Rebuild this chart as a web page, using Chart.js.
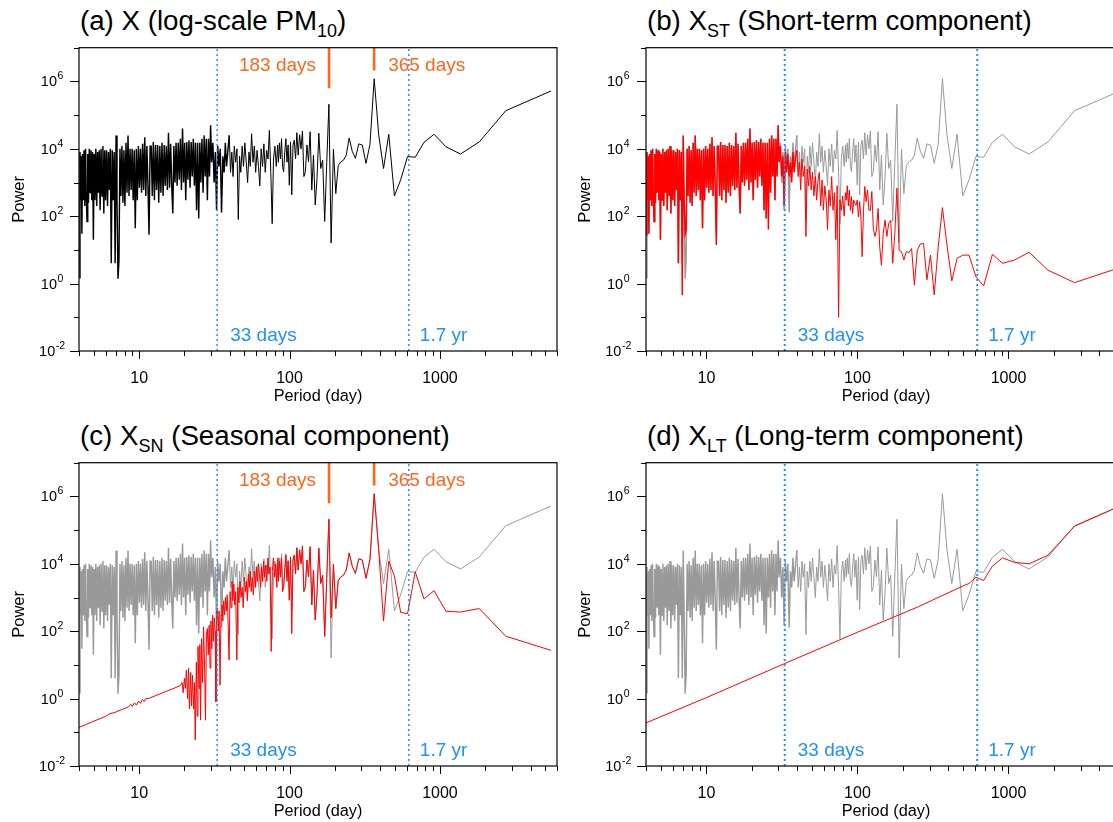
<!DOCTYPE html>
<html>
<head>
<meta charset="utf-8">
<script src="https://cdn.jsdelivr.net/npm/chart.js@4.4.1/dist/chart.umd.min.js"></script>
<style>
html,body{margin:0;padding:0;overflow:hidden;background:#fff;width:1113px;height:822px;position:relative;}
canvas{position:absolute;}
.title{position:absolute;font-family:"Liberation Sans",Arial,Helvetica,sans-serif;font-size:27.7px;color:#000;white-space:nowrap;line-height:1;}
.title .s{font-size:0.65em;position:relative;top:0.37em;}
</style>
</head>
<body>
<div class="title" style="left:80px;top:7px">(a) X (log-scale PM<span class="s">10</span>)</div>
<div class="title" style="left:647px;top:7px">(b) X<span class="s">ST</span> (Short-term component)</div>
<div class="title" style="left:80px;top:422px">(c) X<span class="s">SN</span> (Seasonal component)</div>
<div class="title" style="left:647px;top:422px">(d) X<span class="s">LT</span> (Long-term component)</div>
<script>
// ---------------- data (periods in days, power) ----------------
const densePeriods = [4.00,4.04,4.08,4.12,4.16,4.20,4.25,4.30,4.35,4.40,4.45,4.50,4.55,4.60,4.66,4.72,4.78,4.84,4.90,4.96,5.02,5.08,5.15,5.22,5.29,5.36,5.43,5.50,5.58,5.66,5.74,5.82,5.90,5.98,6.07,6.16,6.25,6.34,6.43,6.52,6.62,6.72,6.82,6.92,7.02,7.12,7.23,7.34,7.45,7.56,7.68,7.80,7.92,8.04,8.17,8.30,8.43,8.56,8.70,8.84,8.98,9.12,9.27,9.42,9.57,9.72,9.88,10.04,10.2,10.37,10.54,10.71,10.89,11.07,11.25,11.44,11.63,11.82,12.02,12.22,12.42,12.63,12.84,13.05,13.27,13.49,13.72,13.95,14.18,14.42,14.66,14.9,15.15,15.4,15.66,15.92,16.19,16.46,16.73,17.01,17.3,17.59,17.88,18.18,18.48,18.79,19.1,19.42,19.74,20.07,20.4,20.74,21.09,21.44,21.8,22.16,22.53,22.91,23.29,23.68,24.07,24.47,24.88,25.3,25.72,26.15,26.59,27.03,27.48,27.94,28.41,28.88,29.36,29.85];
const midPeriods = [30.3,30.9,31.5,32.1,32.7,33.3,33.9,34.6,35.3,36.0,36.7,37.4,38.1,38.9,39.7,40.5,41.3,42.1,42.9,43.8,44.7,45.6,46.5,47.4,48.4,49.4,50.4,51.5,52.6,53.7,54.8,55.9,57.1,58.3,59.5,60.8,62.1,63.4,64.7,66.1,67.5,68.9,70.4,71.9,73.4,75.0,76.6,78.2,79.9,81.6,83.3];
const longPeriods = [84.3,85.6,87.0,88.4,89.8,91.3,92.9,94.5,96.1,97.8,99.6,101.5,103.4,105.4,107.4,109.6,111.8,114.1,116.6,119.1,121.8,124.5,127.4,130.5,133.6,137.0,140.5,144.2,148.1,152.2,156.5,161.1,166.0,171.2,176.7,182.6,188.9,195.7,202.9,210.7,219.2,228.3,238.2,249.0,260.9,274.0,288.4,304.4,322.3,342.4,365.3,391.4,421.5,456.6,498.1,547.9,608.8,684.9,782.7,913.2,1095.8,1369.8,1826.3,2739.5,5479];

// X : full series (black in a, grey in b-d)
const xDense = [1.5,8e3,3e2,6e3,30,7e3,3e2,9e3,2e2,1e4,
 4e2,70,7e3,2.5e2,1e4,5e2,9e3,3e2,8e3,20,
 7e3,3e2,1e4,2e2,8e3,5e2,9e3,1.5e2,1e4,4e2,
 1.2e4,1.2e2,9e3,3e2,9e3,2e2,8e3,6e2,1e4,4,
 9e3,3e2,8e3,4,2.5e4,3e2,1.4,5,1e4,4e2,
 1.2e4,2.5e2,9e3,2e2,1.5e4,5e2,2.5e4,4e2,1e4,6e2,
 1e4,3e2,9e3,44,1e4,3e2,1.2e4,7e2,1e4,5e2,
 1.4e4,6e2,2.2e4,4e2,1.2e4,8e2,28,1.2e4,1.2e4,4e2,
 1.6e4,3e2,1.3e4,6e2,1.3e4,2.5e2,1.2e4,5e2,1.5e4,4e2,
 1.3e4,8e2,1.2e4,6e2,3e4,7e2,1.4e4,8e2,1.2e2,1.2e4,
 1e3,1.5e4,8e2,1.5e4,1.2e3,2e4,6e2,4e4,1e3,1.5e4,
 3e2,1.6e4,1.2e3,1.8e4,7e2,1.6e4,1.5e3,2e4,8e2,1.5e4,
 1.5e2,1.5e4,85,1.5e4,1e3,2e4,5e2,2.5e4,1.5e3,2e4,
 3e2,2e4,1.5e3,5e4];
const xMid = [4e3,1.5e4,1e3,8e3,1.5e2,1.2e4,3e3,1e4,1.3e2,6e3,2e3,1.5e4,3e3,9e3,2.5e4,2e3,8e3,1.5e3,1.2e4,4e3,1e4,80,6e3,2e3,1.2e4,3e3,1.5e4,4e3,1e3,8e3,3e3,2.8e4,4e3,1.2e4,2e3,9e3,3e3,8e2,1e4,3e3,1.4e4,2e3,9e3,5e3,3.5e4,2e3,60,5e3,1.2e4,3e3,1.3e4];
const xLong = [4e3,1.5e4,5e3,2e4,3e3,2.1e3,8e3,2e4,4e3,1.3e4,
 8.3e2,1.6e4,4.3e2,1.3e4,1.8e4,5e3,3e4,6.5e3,2.6e4,1e4,
 3.4e4,1.5e3,2.1e3,1.3e4,4.1e3,3.2e4,6e2,6.5e3,2.15e2,1.3e3,
 2.9e4,2.6e3,4.6e3,70,4e3,2.1e5,16,9.8e3,4.7e2,3.2e3,
 4.1e3,4.6e3,6.5e3,2.1e4,8.5e3,5.2e3,1.4e4,1.3e4,3.7e3,1.35e4,
 1.2e6,2.6e4,2.6e3,2.7e4,4e2,1.2e3,5.9e3,5.6e3,1.55e4,2.7e4,
 1.15e4,7e3,1.6e4,1.35e5,5.2e5];

// X_ST : short-term component (red in b)
const stDense = [28,8e3,3e2,6e3,30,7e3,3e2,9e3,2e2,1e4,
 4e2,70,7e3,2.5e2,1e4,5e2,9e3,3e2,8e3,20,
 7e3,3e2,1e4,2e2,8e3,5e2,9e3,1.5e2,1e4,4e2,
 1.2e4,1.2e2,9e3,3e2,9e3,2e2,8e3,6e2,1e4,4,
 9e3,3e2,8e3,0.45,2.5e4,3e2,30,40,1e4,4e2,
 1.2e4,2.5e2,9e3,2e2,1.5e4,5e2,2.5e4,4e2,1e4,6e2,
 1e4,3e2,9e3,44,1e4,3e2,1.2e4,7e2,1e4,5e2,
 1.4e4,6e2,2.2e4,4e2,1.2e4,8e2,14,1.2e4,1.2e4,4e2,
 1.6e4,3e2,1.3e4,6e2,1.3e4,2.5e2,1.2e4,5e2,1.5e4,4e2,
 1.3e4,8e2,1.2e4,6e2,3e4,7e2,1.4e4,8e2,1.2e2,1.2e4,
 1e3,1.5e4,8e2,1.5e4,1.2e3,2e4,6e2,4e4,1e3,1.5e4,
 3e2,1.6e4,1.2e3,1.8e4,7e2,1.6e4,1.5e3,2e4,8e2,1.5e4,
 1.5e2,1.5e4,85,1.5e4,40,2e4,5e2,2.5e4,1.5e3,2e4,
 3e2,2e4,1.5e3,5e4];
const stMid = [4e3,1.2e4,1.5e3,6e3,2e2,8e3,2e3,7e3,1.5e3,4e3,1e3,8e3,2e3,5e3,9e3,1.5e3,4e3,6e2,5e3,1.5e3,3e3,25,2.5e3,8e2,3e3,6e2,2e3,4e2,1.5e3,3e2,1.2e3,2e3,2e2,1.2e3,1.5e2,8e2,3e2,40,6e2,2e2,1.5e3,1.5e2,5e2,20,8e2,0.1,3e2,1.5e2,4e2,1e2,5e2];
const stLong = [3e2,8e2,2e2,6e2,1.5e2,3.8e2,1.2e2,3e2,2.4e2,2.1e2,
 3e2,95,2.7e2,95,6.3,1.35e2,7.6e2,2.7e2,6e2,1.5e2,
 1.5e2,5.4e2,44,25,39,1.7e2,12,3.5,31,76,
 25,62,76,4,30,6.8e2,9.8,8.9,5,8.9,
 8.3,11,0.9,9.8,15,15.5,1.3,7,0.46,12,
 1.8e2,14,1.2,5.6,7,7,1.6,0.85,7.4,4,
 5,8.5,2.5,1.07,3];

// X_SN : seasonal component (red in c)
const snPeriods = [3.98,6.0,6.4,6.8,8.5,8.8,9.0,9.3,9.6,9.9,10.2,10.5,10.8,11.1,11.5,18.7,19.3,19.6,20.0,20.3,20.6,21.0,21.3,21.6,22.0,22.3,22.6,23.0,23.3,23.6,24.0,24.3,24.6,25.0,25.3,25.6,26.0,26.4,26.8,27.2,27.6,28.0,28.4,28.8,29.2,29.6,30.0,30.4,30.8,31.2,31.6,32.0,32.4,32.8,33.2,33.6,34.0,34.5,35.0,35.5,36.0,36.5,37.0,37.5,38.0,38.5,39.0,39.6,40.2,40.8,41.4,42.0,42.6,43.2,43.8,44.6,45.3,46.0,46.8,47.6,48.4,49.2,50.0,50.8,51.6,52.4,53.2,54.0,54.8,55.6,56.5,57.4,58.3,59.2,60.2,61.2,62.2,63.2,64.2,65.2,66.2,67.2,68.3,69.4,70.6,71.8,73.0,74.2,75.5,76.8,78.1,79.5,80.9,82.3,83.7];
const snPower = [0.14,0.3,0.36,0.38,0.57,0.68,0.58,0.75,0.64,0.85,0.72,0.95,0.82,1.02,1.0,2.4,3,1.5,4,2,7,1,8,0.5,6,0.6,5,0.5,3,0.06,12,0.3,35,2,40,0.23,60,3,1.35e2,10,0.23,80,1.2e2,20,1.5e2,8,2e2,30,3e2,50,2.5e2,1e2,0.8,4e2,4.8e2,1e2,4e2,2.5,3e2,6e2,2e2,8e2,3e2,1e3,4e2,1.2e3,2e2,14,1.5e3,5e2,3e3,8e2,2.5e3,6e2,1.5e3,14,2e3,7e2,3e3,1e3,2e3,5e2,4e3,1.5e3,3e3,8e2,5e3,2e3,6e3,1.5e3,4e3,1.2e3,6e3,2e3,8e3,3e3,1e4,4e3,2e3,8e3,3e3,1.2e4,4e3,9e3,3e3,1.5e4,5e3,8e3,25,6e3,1.5e4,4e3,1e4,2e3,1.5e4];
const snLong = [3e3,1.2e4,4e3,1.5e4,1.5e3,2e3,6e3,1.8e4,3e3,1.2e4,
 8.3e2,1.6e4,85,1.3e4,1.8e4,5e3,3e4,6.5e3,2.6e4,1e4,
 3.4e4,1.5e3,2.1e3,1.3e4,4.1e3,3.2e4,6e2,6.5e3,2.15e2,1.3e3,
 2.9e4,2.6e3,4.6e3,70,4e3,2.1e5,2.5e2,9.8e3,4.7e2,3.2e3,
 4.1e3,4.6e3,6.5e3,2.1e4,8.5e3,5.2e3,1.4e4,1.3e4,3.7e3,1.35e4,
 1.2e6,2.6e4,2e2,1.2e4,4.3e3,3.6e2,3.3e2,5.8e3,9e2,1.6e3,
 3.9e2,3.7e2,4.7e2,71,27];

// X_LT : long-term component (red in d)
const ltPeriods = [3.98,10,33,100,250,500,547.9,608.8,684.9,782.7,913.2,1095.8,1369.8,1826.3,2739.5,5479];
const ltPower = [0.19,1.07,11,93,520,2.2e3,2.6e3,4e3,3.2e3,8.5e3,1.5e4,1.1e4,1e4,1.8e4,1.3e5,5.2e5];

// reference marks
const shortCut = 33, longCut = 621;          // days (33 days, 1.7 yr)
const seasonalPeaks = [183, 365];            // days
const seasonalBarEnds = [6.3e5, 2.1e6];      // lower end of the orange markers

// axes
const X_MIN = 3.98, X_MAX = 6000, Y_MIN = 1e-2, Y_MAX = 1e7;
const yTickExps = [-2,-1,0,1,2,3,4,5,6,7];
const yLabelExps = [-2,0,2,4,6];
const xMajorTicks = [10,100,1000];
const xMinorTicks = [4,5,6,7,8,9,20,30,40,50,60,70,80,90,200,300,400,500,600,700,800,900,2000,3000,4000,5000,6000];

// ---------------- drawing ----------------
const FONT = '"Liberation Sans", Arial, Helvetica, sans-serif';
const BLUE = '#1e90ff', ORANGE = '#ff6619', RED = '#ff0000', GREY = '#999999';
const pts = (xs, ys) => xs.map((v, i) => ({x: v, y: ys[i]}));
const xAllP = densePeriods.concat(midPeriods, longPeriods);
const xAll = xDense.concat(xMid, xLong);
const stAll = stDense.concat(stMid, stLong);
const SPLIT = densePeriods.length + 14;   // the crowded short-period part is drawn a bit heavier

const deco = {
  id: 'deco',
  afterDatasetsDraw(chart, args, o) {
    const {ctx, chartArea: A, scales: {x, y}} = chart;
    ctx.save();
    ctx.setLineDash([]);
    ctx.strokeStyle = '#000';
    ctx.lineWidth = 1.2;
    ctx.strokeRect(A.left, A.top, A.right - A.left, A.bottom - A.top);
    ctx.lineWidth = 1;
    ctx.beginPath();
    yTickExps.forEach(e => {
      const py = Math.round(y.getPixelForValue(Math.pow(10, e))) + 0.5;
      const len = yLabelExps.includes(e) ? 9 : 5;
      ctx.moveTo(A.left - len, py); ctx.lineTo(A.left, py);
    });
    xMajorTicks.forEach(v => { const px = Math.round(x.getPixelForValue(v)) + 0.5; ctx.moveTo(px, A.bottom); ctx.lineTo(px, A.bottom + 8); });
    xMinorTicks.forEach(v => { const px = Math.round(x.getPixelForValue(v)) + 0.5; ctx.moveTo(px, A.bottom); ctx.lineTo(px, A.bottom + 5); });
    ctx.stroke();

    ctx.fillStyle = '#000';
    ctx.textBaseline = 'alphabetic';
    yLabelExps.forEach(e => {
      const py = y.getPixelForValue(Math.pow(10, e));
      const base = '10', sup = e < 0 ? '-' + (-e) : String(e);
      ctx.font = '14.5px ' + FONT; const wb = ctx.measureText(base).width;
      ctx.font = '10.5px ' + FONT; const ws = ctx.measureText(sup).width;
      const left = A.left - o.yLabelGap - (wb + ws) / 2;
      ctx.textAlign = 'left';
      ctx.font = '14.5px ' + FONT; ctx.fillText(base, left, py + 5);
      ctx.font = '10.5px ' + FONT; ctx.fillText(sup, left + wb + 0.5, py - 2);
    });
    ctx.textAlign = 'center';
    ctx.font = '16px ' + FONT;
    xMajorTicks.forEach(v => ctx.fillText(String(v), x.getPixelForValue(v), A.bottom + 31.5));
    ctx.font = '16.3px ' + FONT;
    ctx.fillText('Period (day)', (A.left + A.right) / 2, A.bottom + 49.5);
    ctx.save();
    ctx.translate(A.left - o.yTitleGap, (A.top + A.bottom) / 2);
    ctx.rotate(-Math.PI / 2);
    ctx.textBaseline = 'middle';
    ctx.font = '16.5px ' + FONT;
    ctx.fillText('Power', 0, 0);
    ctx.restore();

    ctx.font = '19px ' + FONT;
    ctx.fillStyle = BLUE;
    ctx.textAlign = 'left';
    ctx.fillText('33 days', x.getPixelForValue(shortCut) + o.dx33, A.bottom - 10.3);
    ctx.fillText('1.7 yr', x.getPixelForValue(longCut) + o.dx17, A.bottom - 10.3);
    if (o.seasonal) {
      ctx.fillStyle = ORANGE;
      ctx.textAlign = 'right';
      ctx.fillText('183 days', x.getPixelForValue(seasonalPeaks[0]) - 13, A.top + 23.5);
      ctx.textAlign = 'left';
      ctx.fillText('365 days', x.getPixelForValue(seasonalPeaks[1]) + 14, A.top + 23.5);
    }
    ctx.restore();
  }
};

function series(xs, ys, color, order, width) {
  return {data: pts(xs, ys), borderColor: color, borderWidth: width || 1, pointRadius: 0, fill: false, tension: 0, order: order};
}
// a series drawn in two parts: crowded short periods slightly heavier, the rest at 1px
function splitSeries(xs, ys, color, order) {
  return [
    series(xs.slice(0, SPLIT + 1), ys.slice(0, SPLIT + 1), color, order, 1.45),
    series(xs.slice(SPLIT), ys.slice(SPLIT), color, order, 1)
  ];
}
function markerSets(seasonal, dotW) {
  const s = [
    {data: [{x: shortCut, y: Y_MIN}, {x: shortCut, y: Y_MAX}], borderColor: BLUE, borderWidth: dotW, borderDash: [2, 3], pointRadius: 0, order: 0},
    {data: [{x: longCut, y: Y_MIN}, {x: longCut, y: Y_MAX}], borderColor: BLUE, borderWidth: dotW, borderDash: [2, 3], pointRadius: 0, order: 0}
  ];
  if (seasonal) {
    seasonalPeaks.forEach((p, i) => s.push({data: [{x: p, y: Y_MAX}, {x: p, y: seasonalBarEnds[i]}], borderColor: ORANGE, borderWidth: 2.6, pointRadius: 0, order: 0}));
  }
  return s;
}

function panel(left, top, width, pad, datasets, o) {
  const c = document.createElement('canvas');
  c.width = width; c.height = 420;
  c.style.left = left + 'px'; c.style.top = top + 'px';
  c.style.width = width + 'px'; c.style.height = '420px';
  document.body.appendChild(c);
  return new Chart(c, {
    type: 'line',
    data: {datasets: datasets},
    options: {
      responsive: false, devicePixelRatio: 1, animation: false, events: [],
      layout: {padding: pad},
      plugins: {legend: {display: false}, tooltip: {enabled: false}, deco: o},
      scales: {
        x: {type: 'logarithmic', min: X_MIN, max: X_MAX, display: false},
        y: {type: 'logarithmic', min: Y_MIN, max: Y_MAX, display: false}
      }
    },
    plugins: [deco]
  });
}

const padL = {left: 79, right: 8, top: 47.7, bottom: 69};   // canvas 565 wide: plot 79..557
const padR = {left: 86, right: 14, top: 47.7, bottom: 69};  // canvas 580 wide at 560: plot 646..1126
const oL = {yLabelGap: 27.2, yTitleGap: 59.4, dx33: 13, dx17: 11};
const oR = {yLabelGap: 28, yTitleGap: 61, dx33: 13, dx17: 11};

panel(0, 0, 565, padL,
  splitSeries(xAllP, xAll, '#000', 2).concat(markerSets(true, 1.5)),
  Object.assign({seasonal: true}, oL));
panel(560, 0, 580, padR,
  splitSeries(xAllP, xAll, GREY, 2).concat(splitSeries(xAllP, stAll, RED, 1), markerSets(false, 2)),
  Object.assign({seasonal: false}, oR));
panel(0, 415, 565, padL,
  splitSeries(xAllP, xAll, GREY, 2).concat([series(snPeriods.concat(longPeriods), snPower.concat(snLong), RED, 1, 1)], markerSets(true, 1.5)),
  Object.assign({seasonal: true}, oL));
panel(560, 415, 580, padR,
  splitSeries(xAllP, xAll, GREY, 2).concat([series(ltPeriods, ltPower, RED, 1, 1)], markerSets(false, 2)),
  Object.assign({seasonal: false}, oR));
</script>
</body>
</html>
